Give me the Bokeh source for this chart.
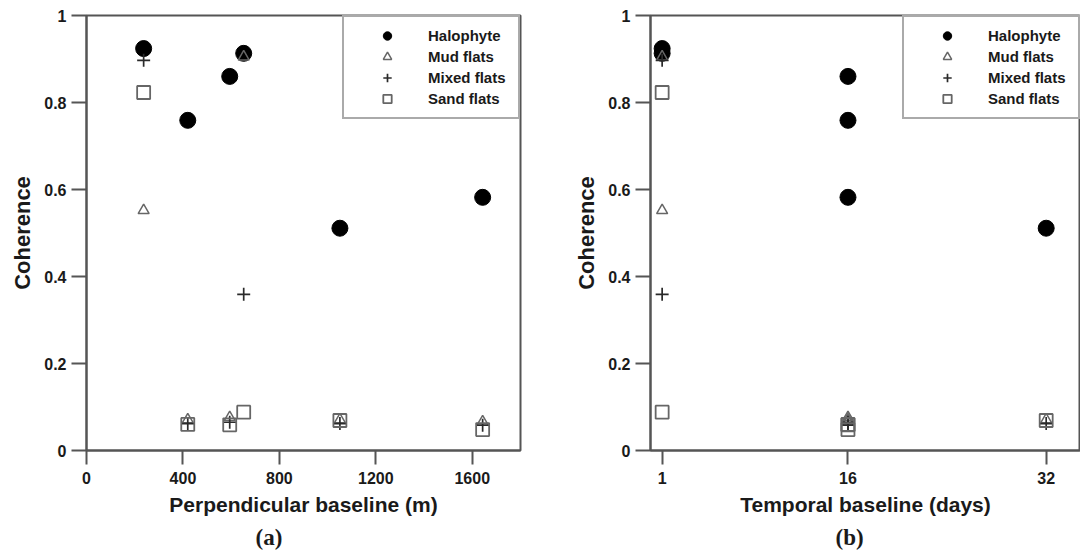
from bokeh.plotting import figure
from bokeh.layouts import row
from bokeh.models import FixedTicker, Legend, LegendItem, Title, Range1d
from bokeh.embed import file_html
from bokeh.resources import INLINE

# ---- data ----
series_names = ["Halophyte", "Mud flats", "Mixed flats", "Sand flats"]
perp_baseline = [237, 420, 594, 652, 1051, 1643]          # m
temporal_baseline = [1, 16, 16, 1, 32, 16]               # days
halophyte = [0.924, 0.759, 0.860, 0.913, 0.511, 0.582]
mud_flats = [0.552, 0.071, 0.076, 0.905, 0.071, 0.066]
mixed_flats = [0.897, 0.062, 0.065, 0.359, 0.062, 0.058]
sand_flats = [0.823, 0.060, 0.059, 0.088, 0.069, 0.048]
perp_ticks = [0, 400, 800, 1200, 1600]
temp_ticks = [1, 16, 32]
y_ticks = [0, 0.2, 0.4, 0.6, 0.8, 1]

FONT = "Liberation Sans"
LINE = "#555555"
TXT = "#1a1a1a"


def make_panel(xvals, xr, xticks, xlabel, tag, b_left, b_right, tag_offset):
    p = figure(width=540, height=556, output_backend="svg", toolbar_location=None,
               x_range=Range1d(*xr), y_range=Range1d(0, 1),
               min_border_left=b_left, min_border_right=b_right,
               min_border_top=15, min_border_bottom=106,
               background_fill_color="white", border_fill_color="white")
    p.grid.visible = False
    p.outline_line_color = LINE
    p.outline_line_width = 2

    for ax in (p.xaxis[0], p.yaxis[0]):
        ax.axis_line_color = LINE
        ax.axis_line_width = 2
        ax.major_tick_line_color = LINE
        ax.major_tick_line_width = 2
        ax.major_tick_in = 0
        ax.minor_tick_line_color = None
        ax.major_label_text_font = FONT
        ax.major_label_text_font_style = "bold"
        ax.major_label_text_font_size = "16px"
        ax.major_label_text_color = TXT
        ax.axis_label_text_font = FONT
        ax.axis_label_text_font_style = "bold"
        ax.axis_label_text_color = TXT

    p.xaxis.ticker = FixedTicker(ticks=xticks)
    p.xaxis.major_tick_out = 14
    p.xaxis.major_label_standoff = 7
    p.xaxis.axis_label = xlabel
    p.xaxis.axis_label_text_font_size = "21px"
    p.xaxis.axis_label_standoff = 6

    p.yaxis.ticker = FixedTicker(ticks=y_ticks)
    p.yaxis.major_tick_out = 15
    p.yaxis.major_label_standoff = 5
    p.yaxis.axis_label = "Coherence"
    p.yaxis.axis_label_text_font_size = "22px"
    p.yaxis.axis_label_standoff = 6

    r_h = p.scatter(xvals, halophyte, marker="circle", size=16,
                    fill_color="black", line_color="black")
    r_m = p.scatter(xvals, mud_flats, marker="triangle", size=11,
                    fill_color=None, line_color="#666666", line_width=1.5)
    r_x = p.scatter(xvals, mixed_flats, marker="cross", size=13,
                    line_color="#2a2a2a", line_width=1.7)
    r_s = p.scatter(xvals, sand_flats, marker="square", size=13,
                    fill_color=None, line_color="#666666", line_width=1.8)

    legend = Legend(items=[LegendItem(label=n, renderers=[r])
                           for n, r in zip(series_names, [r_h, r_m, r_x, r_s])],
                    location="top_right", margin=0, padding=8, spacing=0,
                    glyph_width=70, glyph_height=21, label_height=21,
                    label_width=82, label_standoff=6,
                    border_line_color=LINE, border_line_width=2,
                    label_text_font=FONT, label_text_font_style="bold",
                    label_text_font_size="15px", label_text_color=TXT,
                    background_fill_color="white", background_fill_alpha=1)
    p.add_layout(legend)

    t = Title(text=tag, align="left", offset=tag_offset, standoff=9,
              text_font="Liberation Serif", text_font_style="bold",
              text_font_size="23px", text_color=TXT)
    p.add_layout(t, "below")
    return p


p1 = make_panel(perp_baseline, (0, 1800), perp_ticks, "Perpendicular baseline (m)",
                "(a)", 86, 20, 169)
p2 = make_panel(temporal_baseline, (0.06, 34.77), temp_ticks, "Temporal baseline (days)",
                "(b)", 110, 0, 185)

layout = row(p1, p2)
open("out.html", "w").write(file_html(layout, INLINE))
